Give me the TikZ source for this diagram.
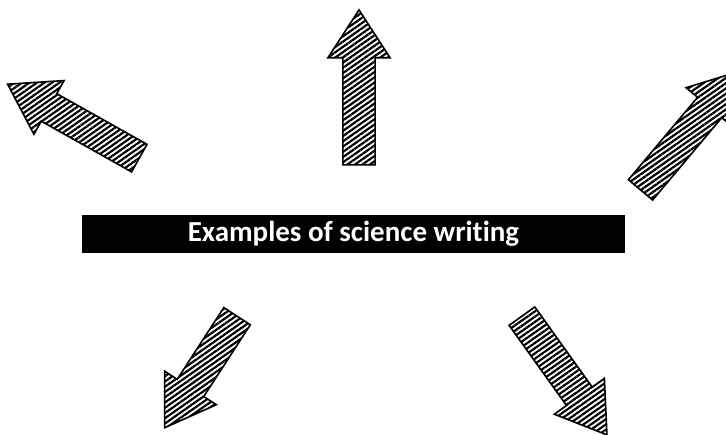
\documentclass[tikz,border=0pt]{standalone}
\usepackage{fontspec}
\setmainfont{Carlito}[Ligatures=NoCommon]
\usepackage{tikz}
\usetikzlibrary{shapes.arrows, patterns.meta}

\begin{document}
\begin{tikzpicture}[
    x=1pt, y=-1pt,
    hatcharrow/.style={draw, line width=1.6pt, single arrow, anchor=tail,
        inner xsep=0pt, inner ysep=15pt,
        minimum width=60pt, single arrow head extend=15pt, single arrow tip angle=66,
        pattern={Lines[angle=35, distance=4.3pt, line width=2.2pt]}},
    barnode/.style={fill=black, text=white, minimum width=543pt, minimum height=38pt,
        font=\bfseries\fontsize{29}{34}\selectfont}
]
\clip (0,0) rectangle (726,434);
\node[barnode] (title) at (353.5, 234) {\raisebox{-2pt}{Examples of science writing}};

\node[hatcharrow, minimum height=155pt, rotate=90] (arrowup) at (359, 166) {};
\node[hatcharrow, minimum height=151pt, rotate=150.7] (arrowul) at (140, 158.5) {};
\node[hatcharrow, minimum height=155pt, rotate=50] (arrowur) at (640, 190.5) {};
\node[hatcharrow, minimum height=133pt, rotate=237] (arrowll) at (237.5, 315.5) {};
\node[hatcharrow, minimum height=146pt, rotate=-54.4] (arrowlr) at (521.5, 315.5) {};
\end{tikzpicture}
\end{document}
